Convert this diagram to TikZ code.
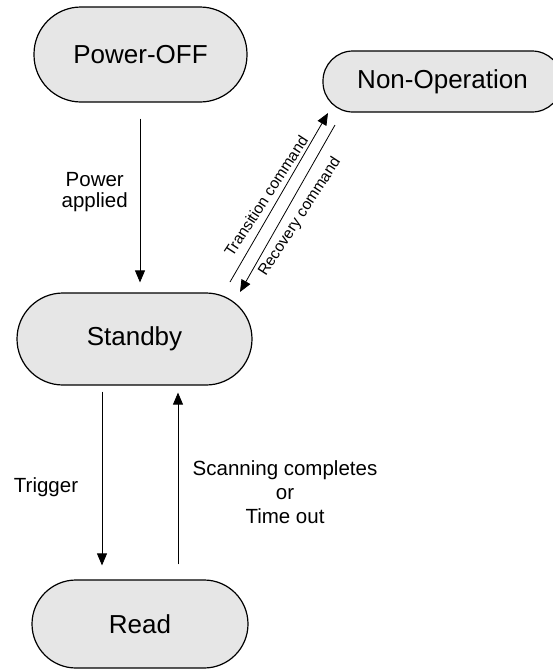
\documentclass[tikz,border=0pt]{standalone}
\usepackage{fontspec}
\setmainfont{Liberation Sans}
\usetikzlibrary{arrows.meta}
\definecolor{statefill}{HTML}{E6E6E6}
\tikzset{
  state/.style={draw=black, line width=1.2pt, fill=statefill, rounded corners=#1,
    inner sep=0pt, font=\fontsize{26}{30}\selectfont},
  arr/.style={draw=black, line width=0.8pt, -{Triangle[length=12pt,width=10pt]}},
  lbl/.style={font=\fontsize{20.5}{24}\selectfont, align=center, inner sep=0pt},
  rlbl/.style={font=\fontsize{15.5}{18}\selectfont, inner sep=0pt, rotate=57},
}
\begin{document}
\begin{tikzpicture}[x=1pt,y=-1pt]
\useasboundingbox (0,0) rectangle (553,670);
\node[state=47pt, minimum width=213pt, minimum height=95pt] (poff) at (140.5,54.5) {Power-OFF};
\node[state=30pt, minimum width=239pt, minimum height=61pt] (nonop) at (442.5,81.5) {Non-Operation};
\node[state=46pt, minimum width=235pt, minimum height=92pt] (standby) at (134.5,339) {Standby};
\node[state=44pt, minimum width=216pt, minimum height=88pt] (read) at (140,624) {Read};

\coordinate (pa) at (140,0);
\draw[arr, shorten <=16pt, shorten >=10pt] (pa |- poff.south) -- (pa |- standby.north);
\node[lbl, anchor=east] (palbl) at (128,192) {Power\\[-3pt]applied};

\coordinate (tg) at (102,0);
\draw[arr, shorten <=6pt, shorten >=14pt] (tg |- standby.south) -- (tg |- read.north);
\node[lbl] (tglbl) at (46,487) {Trigger};

\coordinate (rt) at (178,0);
\draw[arr, shorten <=15pt, shorten >=7pt] (rt |- read.north) -- (rt |- standby.south);
\node[lbl] (rtlbl) at (285,492) {Scanning completes\\or\\Time out};

\coordinate (tc1) at (230,282);
\coordinate (tc2) at (328,113);
\coordinate (rc1) at (335,125);
\coordinate (rc2) at (240,292);
\draw[arr] (tc1) -- (tc2);
\draw[arr] (rc1) -- (rc2);
\node[rlbl] (tclbl) at (266,196) {Transition command};
\node[rlbl] (rclbl) at (300,217) {Recovery command};
\end{tikzpicture}
\end{document}
